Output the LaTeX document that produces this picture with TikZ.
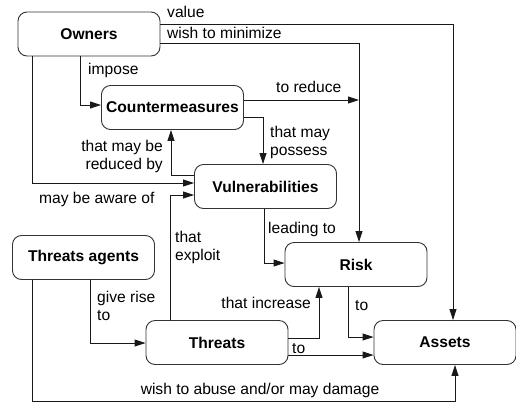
\documentclass[tikz,border=0pt]{standalone}
\usepackage{fontspec}
\setmainfont{Liberation Sans}
\usetikzlibrary{arrows.meta}
\begin{document}
\begin{tikzpicture}[x=1pt,y=-1pt,
  entity/.style={draw=black!80, line width=0.9pt, rounded corners=9pt,
    minimum width=142pt, minimum height=44pt, inner sep=0pt,
    font=\fontsize{15.6}{18}\selectfont\bfseries},
  link/.style={draw=black!90, line width=0.9pt, -{Triangle[length=11pt,width=7pt]}},
  lbl/.style={font=\fontsize{15.6}{17.5}\selectfont, inner sep=0pt, align=left},
]
\fill[white] (0,0) rectangle (516,405);
\useasboundingbox (0,0) rectangle (516,405);

% entities
\node[entity] (owners)  at (89,34)      {Owners};
\node[entity] (cm)      at (172.5,107.5) {Countermeasures};
\node[entity] (vuln)    at (265.5,186.5) {Vulnerabilities};
\node[entity] (agents)  at (83.5,257.5) {Threats agents};
\node[entity] (threats) at (217,342.5)  {Threats};
\node[entity] (risk)    at (356,264.5)  {Risk};
\node[entity] (assets)  at (445,342.5)  {Assets};

% relations
\draw[link] (owners.east |- 0,24) -| (assets.north -| 453,0);
\draw[link] (owners.east |- 0,43) -| (risk.north -| 359,0);
\coordinate (reduceEnd) at (359,100);
\draw[link] (cm.east |- 0,100) -- (reduceEnd);
\draw[link] (cm.east |- 0,117) -| (vuln.north -| 263,0);
\draw[link] (owners.south -| 80,0) |- (cm.west |- 0,105);
\draw[link] (vuln.west |- 0,175) -| (cm.south -| 171,0);
\draw[link] (owners.south -| 32,0) |- (vuln.west |- 0,183);
\draw[link] (threats.north -| 170,0) |- (vuln.west |- 0,195);
\draw[link] (vuln.south -| 264,0) |- (risk.west |- 0,263);
\draw[link] (threats.east |- 0,338) -| (risk.south -| 319,0);
\draw[link] (threats.east |- 0,355) -- (assets.west |- 0,355);
\draw[link] (risk.south -| 348,0) |- (assets.west |- 0,337);
\draw[link] (agents.south -| 90,0) |- (threats.west |- 0,343);
\coordinate (abuseCorner) at (455,401);
\draw[link] (agents.south -| 32,0) |- (abuseCorner) -- (assets.south -| 455,0);

% relation labels
\node[lbl, anchor=base west] (lValue) at (167,17) {value};
\node[lbl, anchor=base west] (lMin) at (167,38) {wish to minimize};
\node[lbl, anchor=base west] (lReduce) at (276,92) {to reduce};
\node[lbl, anchor=north west] (lPossess) at (270,126) {that may\\possess};
\node[lbl, anchor=base west] (lImpose) at (88,74) {impose};
\node[lbl, anchor=north east, align=right] (lReduced) at (163,140) {that may be\\reduced by};
\node[lbl, anchor=base west] (lAware) at (39,203) {may be aware of};
\node[lbl, anchor=north west] (lExploit) at (175,231) {that\\exploit};
\node[lbl, anchor=base west] (lLeading) at (268,233) {leading to};
\node[lbl, anchor=base east] (lIncrease) at (311,308) {that increase};
\node[lbl, anchor=base west] (lRiskTo) at (355,310) {to};
\node[lbl, anchor=base west] (lThreatTo) at (292,353) {to};
\node[lbl, anchor=north west] (lRise) at (97,291) {give rise\\to};
\node[lbl, anchor=base] (lAbuse) at (260,394) {wish to abuse and/or may damage};
\end{tikzpicture}
\end{document}
